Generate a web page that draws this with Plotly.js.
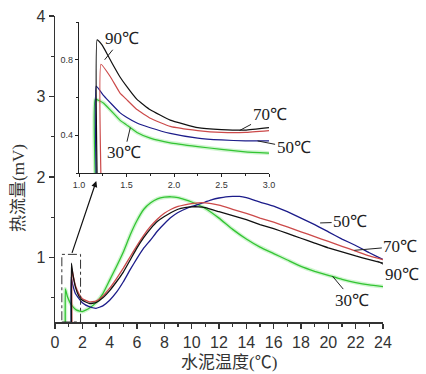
<!DOCTYPE html>
<html><head><meta charset="utf-8">
<script src="https://cdn.plot.ly/plotly-3.0.1.min.js"></script>
<style>body{margin:0;background:#fff}#chart{width:426px;height:374px}</style>
</head><body><div id="chart"></div>
<script>
// ---- main chart data (水泥温度 ℃ vs 热流量 mV) ----
const x30 = [0.75,0.76,0.9,1.1,1.3,1.55,1.8,2.0,2.5,3.0,3.5,4.0,4.5,5.0,5.5,6.0,6.5,7.0,7.5,8.0,8.5,9.0,9.5,10,11,12,13,14,15,16,17,18,19,20,21,22,23,24];
const y30 = [0.2,0.61,0.52,0.44,0.39,0.35,0.335,0.33,0.37,0.44,0.55,0.72,0.89,1.07,1.28,1.46,1.60,1.68,1.73,1.75,1.755,1.745,1.72,1.69,1.61,1.49,1.35,1.23,1.13,1.05,0.97,0.89,0.83,0.78,0.73,0.69,0.66,0.64];
const x50 = [1.18,1.181,1.3,1.5,2.0,2.5,3.0,3.5,4.0,4.5,5.0,5.5,6.0,6.5,7.0,7.5,8.0,8.5,9.0,9.5,10,10.5,11,11.5,12,12.5,13,13.5,14,15,16,17,18,19,20,21,22,23,24];
const y50 = [0.2,0.76,0.66,0.55,0.44,0.39,0.37,0.40,0.47,0.57,0.70,0.85,0.99,1.12,1.22,1.33,1.42,1.50,1.56,1.60,1.635,1.66,1.69,1.72,1.74,1.755,1.76,1.76,1.745,1.69,1.64,1.57,1.49,1.41,1.32,1.23,1.15,1.06,0.975];
const x70 = [1.24,1.241,1.35,1.5,1.75,2.0,2.5,3.0,3.5,4.0,4.5,5.0,5.5,6.0,6.5,7.0,7.5,8.0,8.5,9.0,9.5,10,10.5,11,12,13,14,15,16,17,18,19,20,21,22,23,24];
const y70 = [0.2,0.86,0.76,0.65,0.55,0.49,0.45,0.46,0.52,0.62,0.74,0.87,1.01,1.15,1.28,1.39,1.48,1.55,1.60,1.635,1.655,1.67,1.68,1.68,1.65,1.60,1.55,1.49,1.44,1.38,1.32,1.26,1.20,1.14,1.08,1.02,0.975];
const x90 = [1.2,1.201,1.3,1.5,1.75,2.0,2.5,3.0,3.5,4.0,4.5,5.0,5.5,6.0,6.5,7.0,7.5,8.0,8.5,9.0,9.5,10,10.5,11,12,13,14,15,16,17,18,19,20,21,22,23,24];
const y90 = [0.2,0.93,0.80,0.63,0.52,0.47,0.43,0.44,0.50,0.59,0.70,0.82,0.97,1.12,1.25,1.36,1.45,1.51,1.56,1.60,1.62,1.63,1.63,1.62,1.57,1.52,1.47,1.41,1.36,1.30,1.24,1.18,1.12,1.07,1.02,0.975,0.93];

// ---- inset data (1.0–3.0 ℃ zoom) ----
const ix30 = [1.17,1.171,1.26,1.43,1.5,1.61,1.75,1.96,2.25,2.5,2.75,3.0];
const iy30 = [0.2,0.59,0.57,0.48,0.455,0.415,0.385,0.36,0.34,0.325,0.312,0.305];
const ix50 = [1.18,1.181,1.26,1.43,1.5,1.61,1.75,1.96,2.25,2.5,2.75,3.0];
const iy50 = [0.2,0.66,0.61,0.52,0.495,0.465,0.44,0.41,0.385,0.375,0.37,0.37];
const ix70 = [1.23,1.231,1.33,1.43,1.5,1.61,1.75,1.96,2.25,2.5,2.75,3.0];
const iy70 = [0.2,0.776,0.71,0.625,0.59,0.536,0.49,0.447,0.425,0.415,0.415,0.425];
const ix90 = [1.19,1.191,1.24,1.27,1.35,1.43,1.5,1.61,1.75,1.96,2.25,2.5,2.75,3.0];
const iy90 = [0.2,0.905,0.88,0.855,0.78,0.71,0.66,0.59,0.535,0.48,0.44,0.43,0.427,0.44];

const labels = ['30℃','50℃','70℃','90℃'];
const colors = ['#33c433','#1c1c8a','#cc4a4a','#111111'];

const xTickVals = [0,2,4,6,8,10,12,14,16,18,20,22,24];
const yTickVals = [1,2,3,4];
const ixTickVals = [1.0,1.5,2.0,2.5,3.0];
const ixTickText = ['1.0','1.5','2.0','2.5','3.0'];
const iyTickVals = [0.4,0.8];
const iyTickText = ['0.4','0.8'];

const xTitle = '水泥温度(℃)';
const yTitle = '热流量(mV)';

const mainSets = [[x30,y30],[x50,y50],[x70,y70],[x90,y90]];
const insetSets = [[ix30,iy30],[ix50,iy50],[ix70,iy70],[ix90,iy90]];

const SM = 0.35;
const traces = [];
traces.push({x:x30,y:y30,xaxis:'x',yaxis:'y',mode:'lines',line:{color:'rgba(120,225,120,0.35)',width:4,shape:'spline',smoothing:SM},hoverinfo:'skip',showlegend:false});
traces.push({x:ix30,y:iy30,xaxis:'x2',yaxis:'y2',mode:'lines',line:{color:'rgba(120,225,120,0.35)',width:4,shape:'spline',smoothing:SM},hoverinfo:'skip',showlegend:false});
mainSets.forEach((s,i)=>traces.push({x:s[0],y:s[1],xaxis:'x',yaxis:'y',mode:'lines',name:labels[i],line:{color:colors[i],width:1.3,shape:'spline',smoothing:SM},showlegend:false}));
insetSets.forEach((s,i)=>traces.push({x:s[0],y:s[1],xaxis:'x2',yaxis:'y2',mode:'lines',name:labels[i],line:{color:colors[i],width:1.2,shape:'spline',smoothing:SM},showlegend:false}));

const lblFont = {family:'Times New Roman, Liberation Serif, serif',size:17,color:'#222'};
const ann = (x,y,xr,yr,text,ax,ay)=>({x:x,y:y,xref:xr,yref:yr,text:text,showarrow:true,arrowhead:0,arrowwidth:1,arrowcolor:'#222',ax:ax,ay:ay,font:lblFont,standoff:0});

const W=426,H=374,ml=55,mr=43,mt=16,mb=52;
const pw=W-ml-mr, ph=H-mt-mb;
const titleFont = {family:'Times New Roman, Liberation Serif, Noto Sans CJK SC, serif',size:17,color:'#333'};

const annotations = [
  ann(19.4,1.43,'x','y',labels[1],30,-1),
  ann(21.9,1.09,'x','y',labels[2],46,-4),
  ann(23.6,0.955,'x','y',labels[3],24,13),
  ann(20.3,0.77,'x','y',labels[0],20,24),
  ann(1.27,0.80,'x2','y2',labels[3],17,-21),
  ann(1.54,0.44,'x2','y2',labels[0],-6,25),
  ann(2.69,0.425,'x2','y2',labels[2],30,-16),
  ann(2.88,0.37,'x2','y2',labels[1],36,7),
  {x:3.02,y:1.95,xref:'x',yref:'y',axref:'x',ayref:'y',ax:1.21,ay:1.04,text:'',showarrow:true,arrowhead:2,arrowsize:1,arrowwidth:1.2,arrowcolor:'#111'},
  {x:(18-ml)/pw,y:(H-mb-188)/ph,xref:'paper',yref:'paper',xanchor:'center',yanchor:'middle',text:yTitle,showarrow:false,textangle:-90,font:titleFont},
  {x:(229-ml)/pw,y:(H-mb-362)/ph,xref:'paper',yref:'paper',xanchor:'center',yanchor:'middle',text:xTitle,showarrow:false,font:titleFont}
];

const zoomBox = {x0:0.5,x1:1.87,y0:0.2,y1:1.04};
const tickFontMain = {family:'Liberation Sans Narrow, Arial Narrow, Liberation Sans, sans-serif',size:16,color:'#333'};
const tickFontInset = {family:'Liberation Sans Narrow, Arial Narrow, sans-serif',size:9,color:'#333'};

const layout = {
  width:W,height:H,margin:{l:ml,r:mr,t:mt,b:mb},
  paper_bgcolor:'#fff',plot_bgcolor:'rgba(0,0,0,0)',showlegend:false,
  xaxis:{range:[0,24],tickvals:xTickVals,ticks:'outside',ticklen:5,tickwidth:1.2,tickcolor:'#333',
    minor:{dtick:1,ticks:'outside',ticklen:3,tickcolor:'#333'},
    showline:true,linecolor:'#333',linewidth:1.5,showgrid:false,zeroline:false,tickfont:tickFontMain},
  yaxis:{range:[0.2,4],tickvals:yTickVals,ticks:'outside',ticklen:5,tickwidth:1.2,tickcolor:'#333',
    minor:{dtick:0.5,ticks:'outside',ticklen:3,tickcolor:'#333'},
    showline:true,linecolor:'#333',linewidth:1.5,showgrid:false,zeroline:false,tickfont:tickFontMain},
  xaxis2:{domain:[(79-ml)/pw,(269-ml)/pw],anchor:'y2',range:[1,3],tickvals:ixTickVals,ticktext:ixTickText,
    ticks:'outside',ticklen:3,tickcolor:'#222',minor:{dtick:0.25,ticks:'outside',ticklen:2,tickcolor:'#222'},
    showline:true,linecolor:'#222',linewidth:1.2,showgrid:false,zeroline:false,tickfont:tickFontInset},
  yaxis2:{domain:[(H-mb-173)/ph,(H-mb-22)/ph],anchor:'x2',range:[0.2,1.0],tickvals:iyTickVals,ticktext:iyTickText,
    ticks:'outside',ticklen:3,tickcolor:'#222',minor:{dtick:0.2,ticks:'outside',ticklen:2,tickcolor:'#222'},
    showline:true,linecolor:'#222',linewidth:1.2,showgrid:false,zeroline:false,tickfont:tickFontInset},
  shapes:[{type:'rect',xref:'x',yref:'y',x0:zoomBox.x0,x1:zoomBox.x1,y0:zoomBox.y0,y1:zoomBox.y1,
    line:{color:'#333',width:1,dash:'dashdot'}}],
  annotations:annotations
};
Plotly.newPlot('chart',traces,layout,{displayModeBar:false,staticPlot:true});
</script></body></html>
